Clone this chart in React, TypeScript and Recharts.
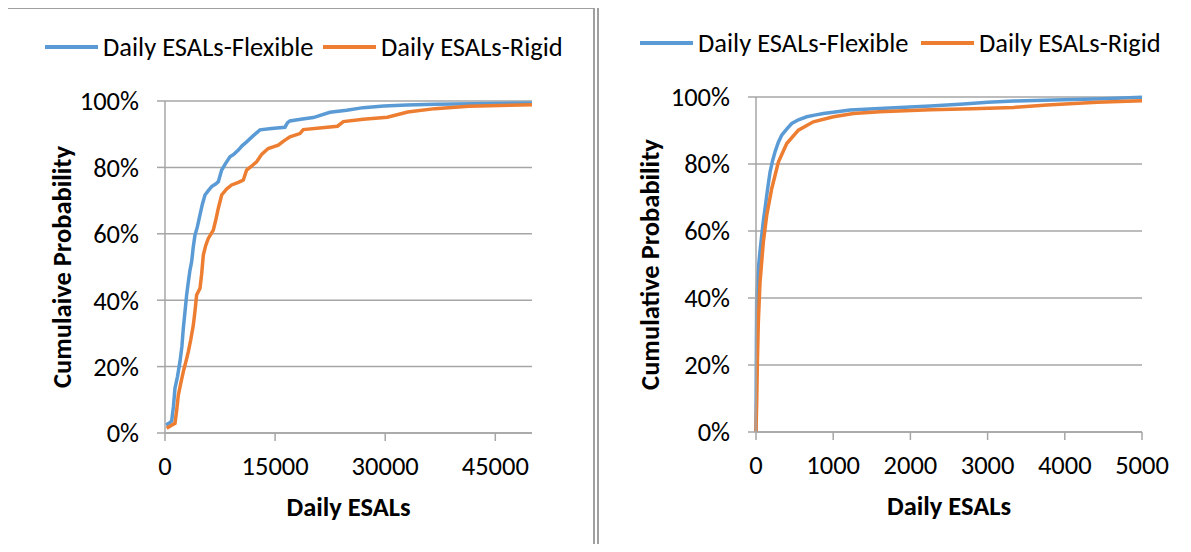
import React from "react";
import { CartesianGrid, Label, Line, LineChart, XAxis, YAxis } from "recharts";

const FLEX_COLOR = "#5B9BD5";
const RIGID_COLOR = "#ED7D31";
const GRID = "#A6A6A6";
const FONT = "Carlito, Calibri, Lato, sans-serif";
const FONT_SIZE = 26.5;

// left panel: whole range of daily ESALs
const fullFlexEsal = [136, 700, 910, 1150, 1360, 1700, 2040, 2300, 2495, 2700, 2950, 3150, 3400, 3630, 3850, 4085, 4400, 4765, 5100, 5450, 5900, 6355, 6900, 7265, 7720, 8200, 8850, 9400, 9990, 10500, 11120, 12000, 12940, 14500, 16340, 16700, 17020, 18500, 20200, 22470, 24760, 27000, 29820, 33000, 36760, 42000, 50000];
const fullFlexProb = [2.4, 3.2, 3.6, 8, 13.5, 17, 21.5, 26, 31.5, 36, 41.6, 45, 49, 51.6, 56, 59.6, 62, 65.7, 69, 71.7, 73, 74.2, 75, 75.7, 79.2, 81, 83.2, 84, 85.2, 86.5, 87.7, 89.5, 91.3, 91.7, 92.1, 93.5, 94, 94.5, 95, 96.6, 97.2, 98, 98.5, 98.8, 99, 99.2, 99.4];
const fullRigidEsal = [227, 900, 1360, 1600, 1815, 2150, 2495, 2850, 3180, 3500, 3860, 4100, 4310, 4770, 5000, 5220, 5550, 5900, 6580, 6900, 7265, 7720, 8400, 9080, 10000, 10670, 11120, 11700, 12480, 13200, 14060, 15430, 16200, 17020, 18380, 18840, 22470, 23500, 24300, 27000, 30300, 33070, 36760, 41380, 50000];
const fullRigidProb = [1.4, 2.3, 2.9, 7, 11.4, 15, 18.5, 21.5, 24.5, 28, 32.5, 37, 41.6, 43.6, 48, 53.6, 56.5, 58.6, 61.1, 64, 67.7, 71.7, 73.5, 74.7, 75.5, 76.2, 79.2, 80.2, 81.7, 84, 85.7, 86.7, 88, 89.2, 90.2, 91.4, 92.2, 92.4, 93.8, 94.5, 95.1, 96.7, 97.7, 98.4, 98.9];
const fullTicks = [0, 15000, 30000, 45000];

// right panel: first 5000 daily ESALs
const zoomFlexEsal = [0, 5, 9, 30, 52, 74, 95, 117, 150, 182, 215, 246, 290, 333, 400, 463, 550, 657, 760, 873, 1050, 1219, 1600, 2257, 2690, 3000, 3337, 3986, 4500, 5000];
const zoomFlexProb = [0, 25, 40.6, 48.7, 54, 58.7, 63, 66.7, 72.5, 77.6, 81, 83.6, 86.5, 88.6, 90.5, 92.1, 93.2, 94.1, 94.6, 95.1, 95.6, 96.1, 96.6, 97.3, 97.9, 98.4, 98.8, 99.2, 99.5, 99.9];
const zoomRigidEsal = [0, 10, 17, 30, 52, 95, 139, 204, 290, 398, 549, 743, 1003, 1262, 1600, 2257, 2800, 3337, 3770, 4419, 5000];
const zoomRigidProb = [0, 10, 19.8, 32.8, 44.7, 56.7, 64.7, 72.7, 80.6, 86.1, 90.1, 92.6, 94.1, 95.1, 95.6, 96.2, 96.5, 96.9, 97.6, 98.4, 98.9];
const zoomTicks = [0, 1000, 2000, 3000, 4000, 5000];

const probTicks = [0, 20, 40, 60, 80, 100];

const toPoints = (xs: number[], ps: number[]) => xs.map((x, i) => ({ x, p: ps[i] }));

type PanelProps = {
  left: number;
  legendTop: number;
  legendX: [number, number];
  margin: { top: number; right: number; bottom: number; left: number };
  yTitle: string;
  yTitleX: number;
  xMax: number;
  xTicks: number[];
  flex: { x: number; p: number }[];
  rigid: { x: number; p: number }[];
};

function LegendItem({ color, text, x, top }: { color: string; text: string; x: number; top: number }) {
  return (
    <div
      style={{
        position: "absolute",
        left: x,
        top,
        height: 28,
        display: "flex",
        alignItems: "center",
        fontFamily: FONT,
        fontSize: FONT_SIZE,
        color: "#000",
        whiteSpace: "nowrap",
      }}
    >
      <span style={{ width: 53, height: 4, background: color, marginRight: 5 }} />
      {text}
    </div>
  );
}

function Panel(p: PanelProps) {
  const tickStyle = { fill: "#000", fontSize: FONT_SIZE, fontFamily: FONT };
  return (
    <div style={{ position: "absolute", left: p.left, top: 0, width: 594, height: 552 }}>
      <LegendItem color={FLEX_COLOR} text="Daily ESALs-Flexible" x={p.legendX[0]} top={p.legendTop} />
      <LegendItem color={RIGID_COLOR} text="Daily ESALs-Rigid" x={p.legendX[1]} top={p.legendTop} />
      <LineChart width={594} height={552} margin={p.margin}>
        <CartesianGrid vertical={false} stroke={GRID} strokeWidth={1.5} />
        <XAxis
          type="number"
          dataKey="x"
          domain={[0, p.xMax]}
          ticks={p.xTicks}
          interval={0}
          height={60}
          tickSize={8}
          tickMargin={15}
          stroke={GRID}
          strokeWidth={1.5}
          tick={tickStyle}
        >
          <Label
            content={({ viewBox }: any) => (
              <text
                x={viewBox.x + viewBox.width / 2}
                y={viewBox.y + 74}
                textAnchor="middle"
                dominantBaseline="central"
                fontFamily={FONT}
                fontSize={FONT_SIZE}
                fontWeight="bold"
                fill="#000"
              >
                Daily ESALs
              </text>
            )}
          />
        </XAxis>
        <YAxis
          type="number"
          domain={[0, 100]}
          ticks={probTicks}
          interval={0}
          width={80}
          tickSize={8}
          tickMargin={18}
          tickFormatter={(v: number) => `${v}%`}
          stroke={GRID}
          strokeWidth={1.5}
          tick={tickStyle}
        >
          <Label
            content={({ viewBox }: any) => {
              const cy = viewBox.y + viewBox.height / 2;
              return (
                <text
                  x={p.yTitleX}
                  y={cy}
                  transform={`rotate(-90, ${p.yTitleX}, ${cy})`}
                  textAnchor="middle"
                  dominantBaseline="central"
                  fontFamily={FONT}
                  fontSize={FONT_SIZE}
                  fontWeight="bold"
                  fill="#000"
                >
                  {p.yTitle}
                </text>
              );
            }}
          />
        </YAxis>
        <Line
          data={p.flex}
          dataKey="p"
          type="linear"
          stroke={FLEX_COLOR}
          strokeWidth={3.5}
          dot={false}
          isAnimationActive={false}
        />
        <Line
          data={p.rigid}
          dataKey="p"
          type="linear"
          stroke={RIGID_COLOR}
          strokeWidth={3.5}
          dot={false}
          isAnimationActive={false}
        />
      </LineChart>
    </div>
  );
}

export default function App() {
  const border = "2px solid #A0A0A0";
  return (
    <div
      style={{
        position: "relative",
        width: 1191,
        height: 552,
        margin: -8,
        background: "#fff",
        overflow: "hidden",
      }}
    >
      <div
        style={{
          position: "absolute",
          left: 4,
          top: 7,
          width: 591,
          height: 600,
          border,
          boxSizing: "border-box",
        }}
      />
      <div
        style={{
          position: "absolute",
          left: 597,
          top: 2,
          width: 620,
          height: 600,
          border,
          boxSizing: "border-box",
        }}
      />
      <Panel
        left={0}
        legendTop={33}
        legendX={[45, 323]}
        margin={{ top: 101, right: 62, bottom: 59, left: 85 }}
        yTitle="Cumulaive Probability"
        yTitleX={62}
        xMax={50000}
        xTicks={fullTicks}
        flex={toPoints(fullFlexEsal, fullFlexProb)}
        rigid={toPoints(fullRigidEsal, fullRigidProb)}
      />
      <Panel
        left={597}
        legendTop={29}
        legendX={[43, 324]}
        margin={{ top: 97, right: 49, bottom: 60, left: 79 }}
        yTitle="Cumulative Probability"
        yTitleX={53}
        xMax={5000}
        xTicks={zoomTicks}
        flex={toPoints(zoomFlexEsal, zoomFlexProb)}
        rigid={toPoints(zoomRigidEsal, zoomRigidProb)}
      />
    </div>
  );
}
